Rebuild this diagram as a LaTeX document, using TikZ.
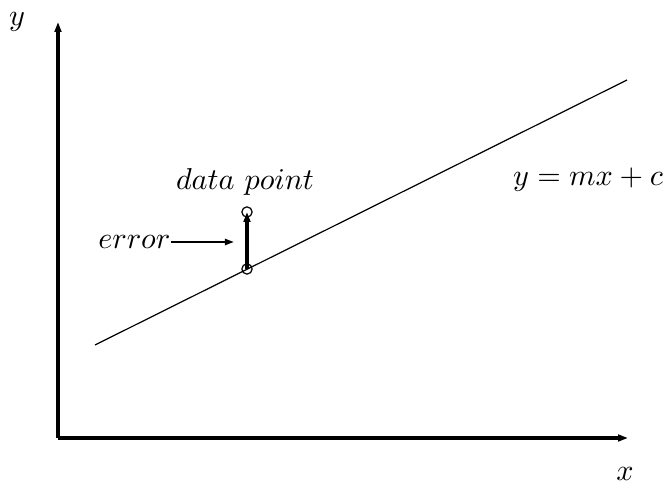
\documentclass[tikz,border=0pt]{standalone}
\usetikzlibrary{arrows.meta}
\begin{document}
\begin{tikzpicture}[x=0.331pt,y=-0.331pt,
  axis/.style={line width=1pt,-{Triangle[length=3.3pt,width=2.2pt]}},
  pt/.style={circle,draw,line width=0.4pt,minimum size=3.4pt,inner sep=0pt},
  lbl/.style={inner sep=0pt}]
\useasboundingbox (0,0) rectangle (669,486);
\coordinate (O) at (58,438);
\coordinate (ytop) at (58,22);
\coordinate (xend) at (628,438);
\draw[axis] (O) -- (ytop);
\draw[axis] (O) -- (xend);
\coordinate (l1) at (95,345);
\coordinate (l2) at (627,80);
\draw[line width=0.4pt] (l1) -- (l2);
\node[pt] (p1) at (247,269) {};
\node[pt] (p2) at (247,212) {};
\draw[line width=1pt,-{Triangle[length=3.3pt,width=2.2pt]}] (p1.center) -- (p2.center);
\node[lbl] (ylab) at (17,22) {$y$};
\node[lbl] (xlab) at (625,474) {$x$};
\node[lbl] (dp) at (245,182) {$data\ point$};
\node[lbl] (eq) at (588,180) {$y = mx + c$};
\node[lbl,anchor=east] (err) at (171,242) {$error$};
\coordinate (errtip) at (234,242);
\draw[line width=0.7pt,-{Triangle[length=3pt,width=2pt]}] (err.east) -- (errtip);
\end{tikzpicture}
\end{document}
